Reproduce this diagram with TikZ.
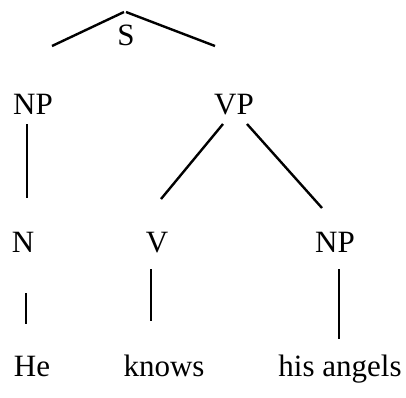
\documentclass[tikz,border=0pt]{standalone}
\usepackage{fontspec}
\setmainfont{Liberation Serif}
\begin{document}
\begin{tikzpicture}[x=1pt,y=-1pt,
  lbl/.style={anchor=base,inner sep=0pt,font=\fontsize{31}{37}\selectfont},
  edge/.style={line width=2.4pt}]
\useasboundingbox (0,0) rectangle (406,397);
\node[lbl] (S) at (126,45) {S};
\node[lbl] (NPa) at (33,114) {NP};
\node[lbl] (VP) at (234,114) {VP};
\node[lbl] (N) at (23,252) {N};
\node[lbl] (V) at (157,252) {V};
\node[lbl] (NPb) at (335,252) {NP};
\node[lbl] (He) at (32,376) {He};
\node[lbl] (knows) at (164,376) {knows};
\node[lbl] (hisangels) at (340,376) {his angels};
% connector end points
\coordinate (s1) at (124,12);
\coordinate (s2) at (126,12);
\coordinate (npl) at (52,46);
\coordinate (vpr) at (215,46);
\coordinate (npt) at (27,124);
\coordinate (npb) at (27,198);
\coordinate (vpl) at (223,124);
\coordinate (vb) at (161,199);
\coordinate (vpr2) at (247,124);
\coordinate (npb2) at (322,208);
\coordinate (nt) at (26,293);
\coordinate (nb) at (26,324);
\coordinate (vt) at (151,269);
\coordinate (vbb) at (151,321);
\coordinate (npt3) at (339,269);
\coordinate (npb3) at (339,339);
\draw[edge] (npl) -- (s1);
\draw[edge] (s2) -- (vpr);
\draw[edge] (npt) -- (npb);
\draw[edge] (vpl) -- (vb);
\draw[edge] (vpr2) -- (npb2);
\draw[edge] (nt) -- (nb);
\draw[edge] (vt) -- (vbb);
\draw[edge] (npt3) -- (npb3);
\end{tikzpicture}
\end{document}
